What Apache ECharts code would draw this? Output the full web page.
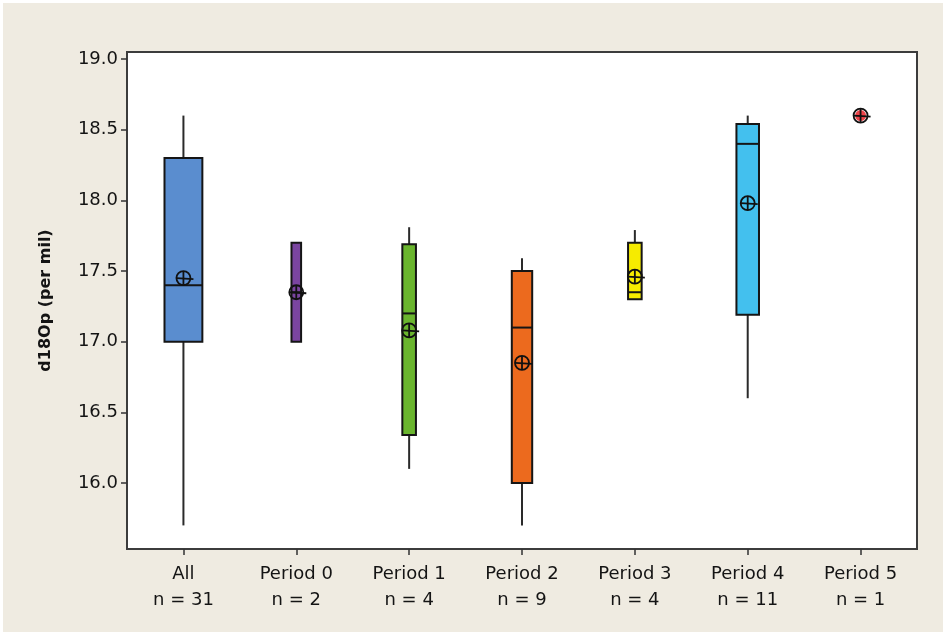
<!DOCTYPE html>
<html>
<head>
<meta charset="utf-8">
<script src="https://cdn.jsdelivr.net/npm/echarts@6/dist/echarts.min.js"></script>
<style>
html,body{margin:0;padding:0;background:#fff;}
#bg{position:absolute;left:3px;top:3px;width:940px;height:629px;background:#efebe1;}
#chart{position:absolute;left:0;top:0;width:946px;height:635px;}
</style>
</head>
<body>
<div id="bg"></div>
<div id="chart"></div>
<script>
const categories = ['All\nn = 31', 'Period 0\nn = 2', 'Period 1\nn = 4', 'Period 2\nn = 9', 'Period 3\nn = 4', 'Period 4\nn = 11', 'Period 5\nn = 1'];
const counts      = [31, 2, 4, 9, 4, 11, 1];
const whiskerLow  = [15.70, 17.00, 16.10, 15.70, 17.30, 16.60, 18.60];
const q1          = [17.00, 17.00, 16.34, 16.00, 17.30, 17.19, 18.60];
const median      = [17.40, 17.35, 17.20, 17.10, 17.35, 18.40, 18.60];
const q3          = [18.30, 17.70, 17.69, 17.50, 17.70, 18.54, 18.60];
const whiskerHigh = [18.60, 17.70, 17.81, 17.59, 17.79, 18.60, 18.60];
const means       = [17.45, 17.35, 17.08, 16.85, 17.46, 17.98, 18.60];
const singlePoints = [[6, 18.60]];
const boxColors = ['#5a8dcf', '#7a45a0', '#6ab52e', '#ec6a1e', '#f6eb00', '#43c0ee', '#e02020'];
const yTicks = [16.0, 16.5, 17.0, 17.5, 18.0, 18.5, 19.0];

const boxData = categories.map((c, i) => [i, whiskerLow[i], q1[i], median[i], q3[i], whiskerHigh[i], means[i], counts[i]]);

const chart = echarts.init(document.getElementById('chart'), null, {renderer: 'canvas'});
const txt = '#141414';
chart.setOption({
  backgroundColor: 'transparent',
  animation: false,
  grid: {left: 127, top: 52, width: 790, height: 497, show: true, backgroundColor: '#ffffff', borderColor: '#3c3c3c', borderWidth: 2},
  xAxis: {
    type: 'category', data: categories,
    axisLine: {show: false},
    axisTick: {show: true, alignWithLabel: true, length: 6, lineStyle: {color: '#333', width: 1.5}},
    axisLabel: {fontFamily: 'DejaVu Sans', fontSize: 18, color: txt, lineHeight: 26, margin: 12}
  },
  yAxis: {
    type: 'value', min: 15.533, max: 19.05,
    splitLine: {show: false},
    axisLine: {show: false},
    axisTick: {show: true, length: 6, customValues: yTicks, lineStyle: {color: '#333', width: 1.5}},
    axisLabel: {customValues: yTicks, formatter: v => v.toFixed(1), fontFamily: 'DejaVu Sans', fontSize: 18, color: txt, margin: 9},
    name: 'd18Op (per mil)', nameLocation: 'middle', nameGap: 73, nameRotate: 90,
    nameTextStyle: {fontFamily: 'DejaVu Sans', fontSize: 16, fontWeight: 'bold', color: txt}
  },
  series: [
    {
      type: 'scatter', data: singlePoints, symbol: 'circle', symbolSize: 11,
      itemStyle: {color: '#e8141c'}, z: 2
    },
    {
      type: 'custom', z: 3,
      data: boxData,
      encode: {x: 0, y: [1, 2, 3, 4, 5, 6]},
      renderItem: function (params, api) {
        const i = api.value(0);
        const n = api.value(7);
        const x = api.coord([i, api.value(3)])[0];
        const yc = v => api.coord([i, v])[1];
        const lo = api.value(1), b1 = api.value(2), md = api.value(3), b3 = api.value(4), hi = api.value(5), mn = api.value(6);
        const w = 6.8 * Math.sqrt(n);
        const children = [];
        const wStyle = {stroke: '#2a2a2a', lineWidth: 2};
        if (n > 1) {
          if (hi > b3) children.push({type: 'line', shape: {x1: x, y1: yc(hi), x2: x, y2: yc(b3)}, style: wStyle});
          if (lo < b1) children.push({type: 'line', shape: {x1: x, y1: yc(b1), x2: x, y2: yc(lo)}, style: wStyle});
          children.push({type: 'rect', shape: {x: x - w / 2, y: yc(b3), width: w, height: yc(b1) - yc(b3)},
            style: {fill: boxColors[i], stroke: '#151515', lineWidth: 2}});
          children.push({type: 'line', shape: {x1: x - w / 2, y1: yc(md), x2: x + w / 2, y2: yc(md)}, style: {stroke: '#151515', lineWidth: 2}});
        }
        const cy = yc(mn), r = 7;
        const mStyle = {stroke: '#111', lineWidth: 1.8, fill: null};
        children.push({type: 'circle', shape: {cx: x, cy: cy, r: r}, style: {stroke: '#111', lineWidth: 1.8, fill: 'none'}});
        children.push({type: 'line', shape: {x1: x - r, y1: cy, x2: x + r + 3, y2: cy + 1}, style: mStyle});
        children.push({type: 'line', shape: {x1: x, y1: cy - r, x2: x, y2: cy + r}, style: mStyle});
        return {type: 'group', children: children};
      }
    }
  ]
});
</script>
</body>
</html>
